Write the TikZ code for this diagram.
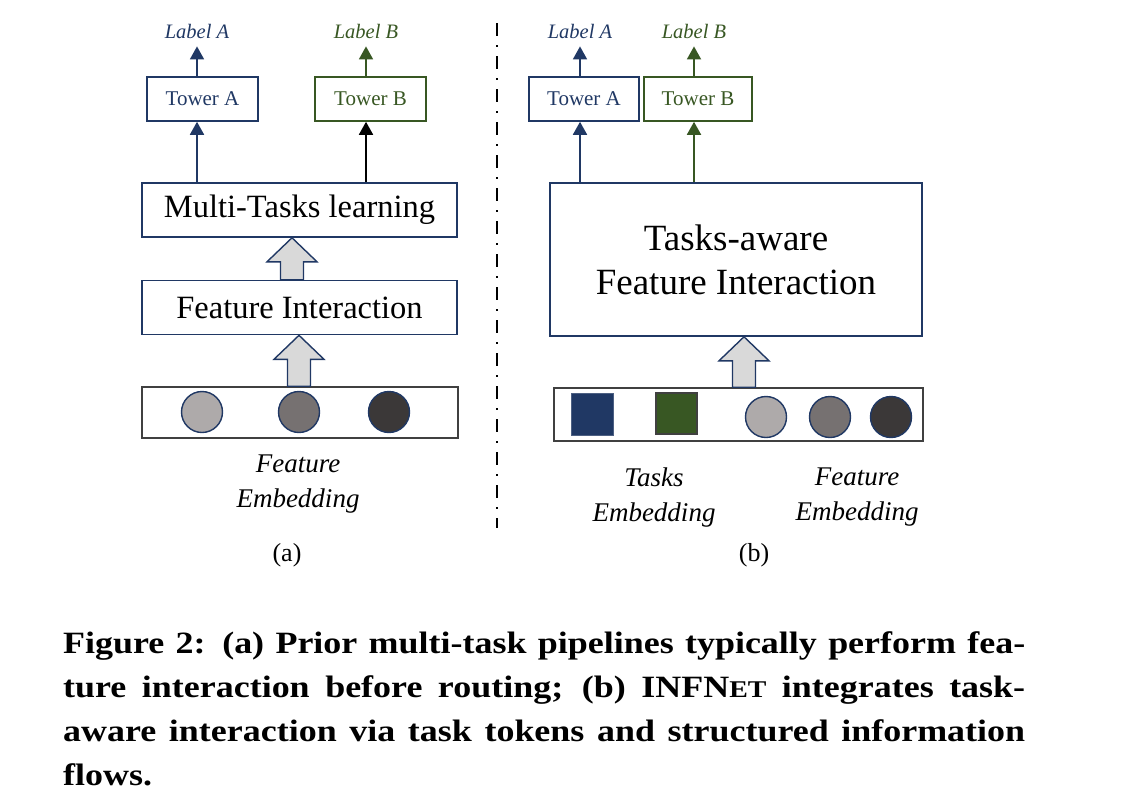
\documentclass[tikz,border=0pt]{standalone}
\usepackage{fontspec}
\setmainfont{Liberation Serif}
\newfontfamily\capfont[FakeStretch=1.16]{Liberation Serif}
\usetikzlibrary{arrows.meta,calc,positioning}
\definecolor{Navy}{HTML}{203864}
\definecolor{Olive}{HTML}{385723}
\definecolor{Shade}{HTML}{D9D9D9}
\definecolor{EdgeGrey}{HTML}{404040}
\definecolor{GreyA}{HTML}{AEAAAA}
\definecolor{GreyB}{HTML}{767171}
\definecolor{GreyC}{HTML}{3B3838}
\newcommand{\fs}[2]{\fontsize{#1}{#2}\selectfont}
% hollow block arrow: x position, lower node, upper node
\newcommand{\fatarrow}[3]{%
  \draw[fill=Shade,draw=Navy,line width=1.4pt]
    let \p1=(#1), \p2=(#2.north), \p3=(#3.south) in
    (\x1-11.5pt,\y2) -- (\x1-11.5pt,\y3-24pt) -- (\x1-25pt,\y3-24pt) -- (\x1,\y3)
    -- (\x1+25pt,\y3-24pt) -- (\x1+11.5pt,\y3-24pt) -- (\x1+11.5pt,\y2) -- cycle;
}

\begin{document}
\begin{tikzpicture}[x=1pt,y=-1pt,
  blk/.style={draw=Navy,line width=1.6pt,inner sep=0pt,align=center},
  tower/.style={blk,minimum height=44pt,font=\fs{21}{25}},
  embbox/.style={draw=EdgeGrey,line width=1.6pt,inner sep=0pt},
  tok/.style={circle,draw=Navy,line width=1.4pt,minimum size=41pt,inner sep=0pt},
  sq/.style={minimum size=42pt,inner sep=0pt,line width=1.2pt},
  lab/.style={font=\fs{20.5}{24}\itshape,inner sep=0pt,anchor=base},
  sublab/.style={font=\fs{27}{35}\itshape,align=center,inner sep=0pt,anchor=north},
  uparr/.style={line width=1.8pt,shorten >=8pt,-{Triangle[length=13pt,width=14pt]}},
  upin/.style={line width=1.8pt,-{Triangle[length=13pt,width=14pt]}},
  capline/.style={anchor=base west,inner sep=0pt,font=\capfont\fs{31}{44}\bfseries}]
  \useasboundingbox (0,0) rectangle (1145,803);

  % (a) prior pipeline
  \node[tower,draw=Navy,text=Navy,minimum width=111pt] (towAL) at (202.5,99) {Tower A};
  \node[tower,draw=Olive,text=Olive,minimum width=111pt] (towBL) at (370.5,99) {Tower B};
  \node[lab,text=Navy] (labAL) at (197,38) {Label A};
  \node[lab,text=Olive] (labBL) at (366,38) {Label B};
  \draw[uparr,Navy] (towAL.north -| labAL) -- (labAL.south);
  \draw[uparr,Olive] (towBL.north -| labBL) -- (labBL.south);
  \node[blk,minimum width=315pt,minimum height=54pt,font=\fs{32.5}{38}] (mtl) at (299.5,210) {Multi-Tasks learning};
  \node[blk,minimum width=315pt,minimum height=54pt,font=\fs{32.5}{38}] (fintL) at (299.5,307.5) {Feature Interaction};
  \node[embbox,minimum width=316pt,minimum height=51pt] (embL) at (300,412.5) {};
  \foreach \x/\c [count=\i] in {202/GreyA,299/GreyB,389/GreyC}
    \node[tok,fill=\c] (fL\i) at (\x,412) {};
  \draw[upin,Navy] (mtl.north -| labAL) -- (towAL.south -| labAL);
  \draw[upin,black] (mtl.north -| labBL) -- (towBL.south -| labBL);
  \fatarrow{292,0}{fintL}{mtl}
  \fatarrow{299,0}{embL}{fintL}
  \node[sublab] (fembL) at (298,455) {Feature\\Embedding};
  \node[font=\fs{26}{30},anchor=base,inner sep=0pt] (subA) at (287,561) {(a)};

  % divider
  \coordinate (divtop) at (496.5,23);
  \coordinate (divbot) at (496.5,528);
  \draw[line width=2pt,dash pattern=on 13pt off 9pt on 2pt off 9pt] (divtop) -- (divbot);

  % (b) task-aware interaction
  \node[tower,draw=Navy,text=Navy,minimum width=110pt] (towAR) at (584,99) {Tower A};
  \node[tower,draw=Olive,text=Olive,minimum width=108pt] (towBR) at (698,99) {Tower B};
  \node[lab,text=Navy] (labAR) at (580,38) {Label A};
  \node[lab,text=Olive] (labBR) at (694,38) {Label B};
  \draw[uparr,Navy] (towAR.north -| labAR) -- (labAR.south);
  \draw[uparr,Olive] (towBR.north -| labBR) -- (labBR.south);
  \node[blk,minimum width=372pt,minimum height=153pt,font=\fs{37}{44}] (tafi) at (736,259.5) {Tasks-aware\\Feature Interaction};
  \node[embbox,minimum width=369pt,minimum height=53pt] (embR) at (738.5,414.5) {};
  \node[sq,fill=Navy,draw=Navy!80] (tkA) at (592.5,414.5) {};
  \node[sq,fill=Olive,draw=EdgeGrey,minimum size=41pt] (tkB) at (676.5,413.5) {};
  \foreach \x/\c [count=\i] in {766/GreyA,830/GreyB,891/GreyC}
    \node[tok,fill=\c] (fR\i) at (\x,417) {};
  \draw[upin,Navy] (tafi.north -| labAR) -- (towAR.south -| labAR);
  \draw[upin,Olive] (tafi.north -| labBR) -- (towBR.south -| labBR);
  \fatarrow{744,0}{embR}{tafi}
  \node[sublab] (tembR) at (654,468) {Tasks\\Embedding};
  \node[sublab] (fembR) at (857,468) {Feature\\Embedding};
  \node[font=\fs{26}{30},anchor=base,inner sep=0pt] (subB) at (754,561) {(b)};

  % caption
  \node[capline] (cap1) at (63,653)
    {\makebox[962pt][s]{Figure 2: (a) Prior multi-task pipelines typically perform fea-}};
  \node[capline] (cap2) at (63,697)
    {\makebox[962pt][s]{ture interaction before routing; (b) INFN{\fs{24}{24}ET} integrates task-}};
  \node[capline] (cap3) at (63,741)
    {\makebox[962pt][s]{aware interaction via task tokens and structured information}};
  \node[capline] (cap4) at (63,785) {flows.};
\end{tikzpicture}
\end{document}
